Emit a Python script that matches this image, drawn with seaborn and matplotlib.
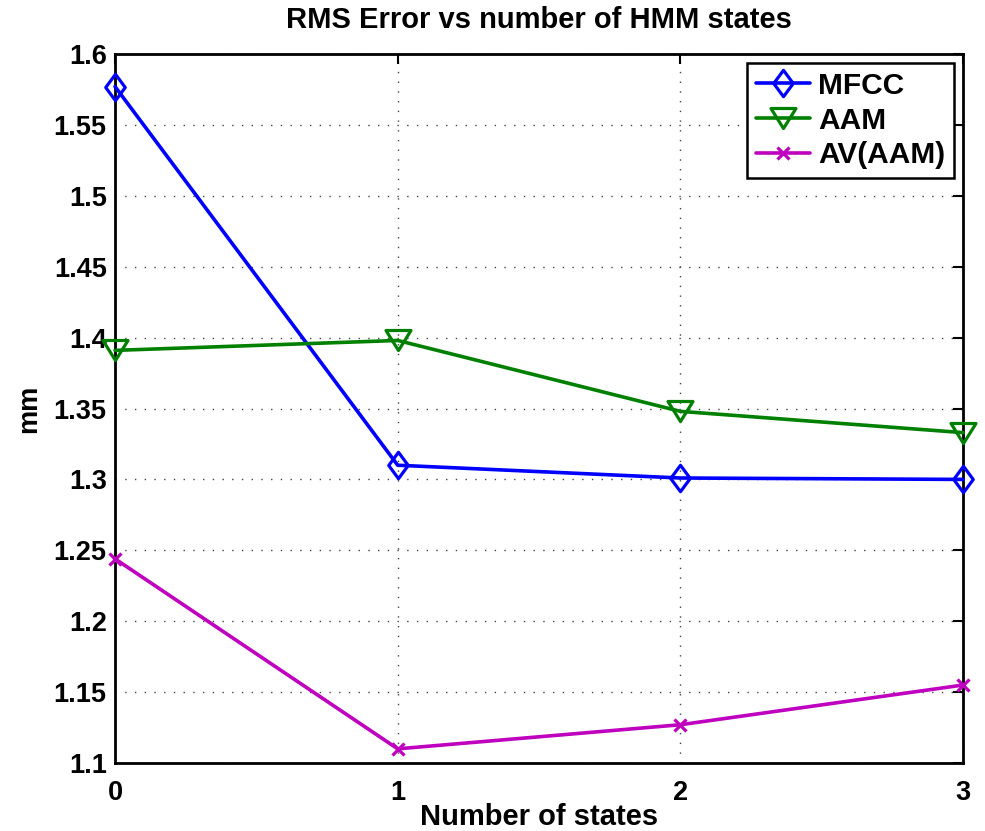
import numpy as np
import pandas as pd
import matplotlib
matplotlib.use("Agg")
import matplotlib.pyplot as plt
from matplotlib.path import Path
import seaborn as sns

# Data
states = [0, 1, 2, 3]
mfcc = [1.577, 1.310, 1.301, 1.300]
aam = [1.391, 1.398, 1.348, 1.333]
av_aam = [1.244, 1.110, 1.127, 1.155]
series_names = ["MFCC", "AAM", "AV(AAM)"]
x_ticks = [0, 1, 2, 3]
y_ticks = [1.1, 1.15, 1.2, 1.25, 1.3, 1.35, 1.4, 1.45, 1.5, 1.55, 1.6]
y_tick_labels = ["1.1", "1.15", "1.2", "1.25", "1.3", "1.35", "1.4", "1.45", "1.5", "1.55", "1.6"]

sns.set_theme(style="white")
plt.rcParams["font.family"] = ["Liberation Sans", "DejaVu Sans"]
plt.rcParams["font.weight"] = "bold"
plt.rcParams["text.color"] = "black"
plt.rcParams["axes.labelcolor"] = "black"

fig = plt.figure(figsize=(9.85, 8.31), dpi=100)
ax = fig.add_axes([0.1168, 0.0818, 0.8609, 0.8532])

# MATLAB-like open markers
diamond = Path([(0, 1), (0.74, 0), (0, -1), (-0.74, 0), (0, 1)],
               [Path.MOVETO, Path.LINETO, Path.LINETO, Path.LINETO, Path.CLOSEPOLY])
tri_down = Path([(-1, 0.8), (1, 0.8), (0, -0.8), (-1, 0.8)],
                [Path.MOVETO, Path.LINETO, Path.LINETO, Path.CLOSEPOLY])

styles = [
    (mfcc, "#0000FF", diamond, 19),
    (aam, "#008000", tri_down, 18),
    (av_aam, "#BF00BF", "x", 9),
]

for (vals, color, mk, ms), name in zip(styles, series_names):
    df = pd.DataFrame({"states": states, "rms": vals})
    sns.lineplot(data=df, x="states", y="rms", ax=ax, color=color, lw=2.6,
                 marker=mk, markersize=ms, markeredgewidth=2.3,
                 markerfacecolor="none", markeredgecolor=color, label=name,
                 clip_on=False, zorder=3)

ax.set_xlim(0, 3)
ax.set_ylim(1.1, 1.6)
ax.set_xticks(x_ticks)
ax.set_xticklabels([str(t) for t in x_ticks])
ax.set_yticks(y_ticks)
ax.set_yticklabels(y_tick_labels)

ax.grid(True, color="#444444", linestyle=(0, (1, 6)), linewidth=1.0)
ax.tick_params(direction="in", length=7, width=1.5, top=True, right=True,
               labelsize=19.5, colors="black")
ax.tick_params(axis="y", pad=6)
ax.tick_params(axis="x", pad=12)
for lbl in ax.get_xticklabels() + ax.get_yticklabels():
    lbl.set_fontweight("bold")
for sp in ax.spines.values():
    sp.set_visible(True)
    sp.set_color("black")
    sp.set_linewidth(2.0)

ax.set_title("RMS Error vs number of HMM states", fontsize=21, fontweight="bold",
             pad=19, color="black")
ax.set_xlabel("Number of states", fontsize=21, fontweight="bold", labelpad=-2)
ax.set_ylabel("mm", fontsize=19.5, fontweight="bold", labelpad=8)

leg = ax.legend(loc="upper right", fontsize=21.5, frameon=True, fancybox=False,
                borderaxespad=0.3, handlelength=1.8, handletextpad=0.27,
                labelspacing=0.22, borderpad=0.3)
leg.get_frame().set_edgecolor("black")
leg.get_frame().set_linewidth(1.8)
leg.get_frame().set_alpha(1.0)
for t in leg.get_texts():
    t.set_fontweight("bold")
    t.set_color("black")

fig.savefig("out.png", dpi=100)
